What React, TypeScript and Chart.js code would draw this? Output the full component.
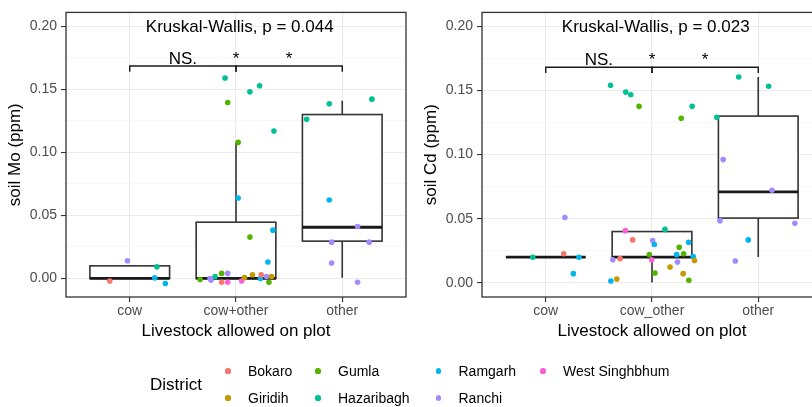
import React, { useEffect, useRef } from 'react';
import { Chart, registerables } from 'chart.js';

Chart.register(...registerables);

const FONT = '"Liberation Sans", Arial, Helvetica, sans-serif';

const DISTRICTS = ['Bokaro', 'Giridih', 'Gumla', 'Hazaribagh', 'Ramgarh', 'Ranchi', 'West Singhbhum'];
const DISTRICT_COLORS = ['#F8766D', '#C49A00', '#53B400', '#00C094', '#00B6EB', '#A58AFF', '#FB61D7'];

const MO_CATEGORIES = ['cow', 'cow+other', 'other'];
const CD_CATEGORIES = ['cow', 'cow_other', 'other'];

const Y_MAJOR_TICKS = [0, 0.05, 0.1, 0.15, 0.2];
const Y_MINOR_TICKS = [0.025, 0.075, 0.125, 0.175];

// box statistics per category: [lower whisker, Q1, median, Q3, upper whisker]
const MO_BOXES = [
  [0, 0, 0, 0.01, 0.01],
  [0, 0, 0, 0.0446, 0.1076],
  [0.0005, 0.0296, 0.0406, 0.13, 0.141],
];
const CD_BOXES = [
  [0.02, 0.02, 0.02, 0.02, 0.02],
  [0.0003, 0.02, 0.02, 0.04, 0.04],
  [0.0201, 0.0505, 0.0709, 0.13, 0.1605],
];

// jittered observations: [district, jittered category position, value]
const MO_POINTS: [string, number, number][] = [
  ['Bokaro', 0.812, -0.002],
  ['Ranchi', 0.978, 0.014],
  ['Hazaribagh', 1.256, 0.0092],
  ['Ramgarh', 1.235, 0.0005],
  ['Ramgarh', 1.335, -0.004],
  ['Hazaribagh', 1.897, 0.159],
  ['Hazaribagh', 2.131, 0.148],
  ['Hazaribagh', 2.222, 0.1528],
  ['Gumla', 1.922, 0.1396],
  ['Hazaribagh', 2.357, 0.117],
  ['Gumla', 2.02, 0.1079],
  ['Ramgarh', 2.02, 0.0638],
  ['Gumla', 2.131, 0.0328],
  ['Ramgarh', 2.347, 0.0383],
  ['Ramgarh', 2.3, 0.0131],
  ['Gumla', 1.662, -0.0008],
  ['Ranchi', 1.756, 0.0],
  ['Ranchi', 1.765, -0.0013],
  ['Hazaribagh', 1.803, 0.0016],
  ['Gumla', 1.865, 0.004],
  ['Bokaro', 1.865, -0.003],
  ['Ranchi', 1.922, 0.004],
  ['West Singhbhum', 1.922, -0.003],
  ['West Singhbhum', 2.053, -0.002],
  ['Giridih', 2.08, 0.0008],
  ['Giridih', 2.155, 0.0029],
  ['Bokaro', 2.237, 0.0029],
  ['Ramgarh', 2.23, 0.0],
  ['Ranchi', 2.288, 0.0016],
  ['Giridih', 2.335, 0.0016],
  ['Gumla', 2.31, -0.003],
  ['Hazaribagh', 2.665, 0.1262],
  ['Hazaribagh', 2.878, 0.1386],
  ['Hazaribagh', 3.279, 0.1422],
  ['Ramgarh', 2.878, 0.0622],
  ['Ranchi', 3.144, 0.0412],
  ['Ranchi', 2.9, 0.0288],
  ['Ranchi', 3.254, 0.0288],
  ['Ranchi', 2.9, 0.0123],
  ['Ranchi', 3.144, -0.003],
];

const CD_POINTS: [string, number, number][] = [
  ['Hazaribagh', 0.878, 0.02],
  ['Ranchi', 1.18, 0.051],
  ['Bokaro', 1.169, 0.0227],
  ['Ramgarh', 1.313, 0.02],
  ['Ramgarh', 1.26, 0.0072],
  ['West Singhbhum', 1.749, 0.0407],
  ['Bokaro', 1.818, 0.0335],
  ['Hazaribagh', 2.122, 0.0417],
  ['Ranchi', 2.006, 0.033],
  ['Ramgarh', 2.022, 0.0299],
  ['Ramgarh', 2.345, 0.0317],
  ['Gumla', 2.256, 0.0278],
  ['Ranchi', 1.631, 0.018],
  ['Bokaro', 1.7, 0.0189],
  ['Gumla', 1.975, 0.022],
  ['West Singhbhum', 1.997, 0.018],
  ['Ramgarh', 2.232, 0.022],
  ['Gumla', 2.298, 0.0227],
  ['Ramgarh', 2.388, 0.0206],
  ['Giridih', 2.4, 0.0175],
  ['Ranchi', 2.24, 0.0162],
  ['Gumla', 2.028, 0.0077],
  ['Giridih', 2.17, 0.0124],
  ['Giridih', 2.293, 0.0072],
  ['Gumla', 2.347, 0.002],
  ['Ramgarh', 1.613, 0.0015],
  ['Giridih', 1.669, 0.003],
  ['Hazaribagh', 1.61, 0.154],
  ['Hazaribagh', 1.753, 0.1487],
  ['Hazaribagh', 1.8, 0.1466],
  ['Gumla', 1.878, 0.1376],
  ['Gumla', 2.275, 0.1283],
  ['Hazaribagh', 2.378, 0.1376],
  ['Hazaribagh', 2.816, 0.1605],
  ['Hazaribagh', 3.098, 0.1533],
  ['Hazaribagh', 2.61, 0.129],
  ['Ranchi', 2.67, 0.0961],
  ['Ranchi', 3.129, 0.0722],
  ['Ranchi', 2.64, 0.0485],
  ['Ranchi', 3.345, 0.0464],
  ['Ramgarh', 2.906, 0.0335],
  ['Ranchi', 2.784, 0.017],
];

const MO_TEST_LABEL = 'Kruskal-Wallis, p = 0.044';
const CD_TEST_LABEL = 'Kruskal-Wallis, p = 0.023';
const BRACKETS = [[1, 2], [2, 3]];
const SIG_LABELS: [number, string][] = [[1.5, 'NS.'], [2, '*'], [2.5, '*']];
const MO_BRACKET_Y = 0.1685;
const CD_BRACKET_Y = 0.168;
const BRACKET_TIP = 0.0045;
const LABEL_POS_X = 2.035;
const LABEL_POS_Y = 0.199;

const MO_Y_RANGE = [-0.0147, 0.211];
const CD_Y_RANGE = [-0.011, 0.2108];
const X_RANGE = [0.4, 3.6];

const LEGEND_COLUMNS = [['Bokaro', 'Giridih'], ['Gumla', 'Hazaribagh'], ['Ramgarh', 'Ranchi'], ['West Singhbhum']];

const isMajor = (v: number) => Y_MAJOR_TICKS.some((t) => Math.abs(t - v) < 1e-9);

type PanelProps = {
  left: number;
  yTitle: string;
  categories: string[];
  boxes: number[][];
  points: [string, number, number][];
  testLabel: string;
  bracketY: number;
  yRange: number[];
};

function Panel({ left, yTitle, categories, boxes, points, testLabel, bracketY, yRange }: PanelProps) {
  const ref = useRef<HTMLCanvasElement>(null);

  useEffect(() => {
    if (!ref.current) return;
    const datasets = DISTRICTS.map((d, i) => ({
      label: d,
      data: points.filter((p) => p[0] === d).map((p) => ({ x: p[1], y: p[2] })),
      backgroundColor: DISTRICT_COLORS[i],
      borderWidth: 0,
      pointRadius: 2.8,
      pointHoverRadius: 2.8,
    }));

    const extras = {
      id: 'extras',
      beforeDatasetsDraw(chart: any) {
        const { ctx, scales } = chart;
        const x = scales.x;
        const y = scales.y;
        ctx.save();
        ctx.strokeStyle = '#333333';
        boxes.forEach((b, i) => {
          const c = i + 1;
          const xc = x.getPixelForValue(c);
          const xl = x.getPixelForValue(c - 0.375);
          const xr = x.getPixelForValue(c + 0.375);
          const [lo, q1, med, q3, hi] = b.map((v) => y.getPixelForValue(v));
          ctx.lineWidth = 1.6;
          ctx.beginPath();
          ctx.moveTo(xc, hi);
          ctx.lineTo(xc, q3);
          ctx.moveTo(xc, q1);
          ctx.lineTo(xc, lo);
          ctx.stroke();
          ctx.fillStyle = '#ffffff';
          ctx.fillRect(xl, q3, xr - xl, q1 - q3);
          ctx.strokeRect(xl, q3, xr - xl, q1 - q3);
          ctx.lineWidth = 2.8;
          ctx.strokeStyle = '#1a1a1a';
          ctx.beginPath();
          ctx.moveTo(xl, med);
          ctx.lineTo(xr, med);
          ctx.stroke();
          ctx.strokeStyle = '#333333';
        });
        ctx.restore();
      },
      afterDatasetsDraw(chart: any) {
        const { ctx, scales, chartArea } = chart;
        const x = scales.x;
        const y = scales.y;
        ctx.save();
        // brackets
        ctx.strokeStyle = '#1a1a1a';
        ctx.lineWidth = 1.4;
        const by = y.getPixelForValue(bracketY);
        const ty = y.getPixelForValue(bracketY - BRACKET_TIP);
        BRACKETS.forEach(([a, b]) => {
          const xa = x.getPixelForValue(a);
          const xb = x.getPixelForValue(b);
          ctx.beginPath();
          ctx.moveTo(xa, ty);
          ctx.lineTo(xa, by);
          ctx.lineTo(xb, by);
          ctx.lineTo(xb, ty);
          ctx.stroke();
        });
        ctx.fillStyle = '#000000';
        ctx.font = `17px ${FONT}`;
        ctx.textAlign = 'center';
        ctx.textBaseline = 'alphabetic';
        SIG_LABELS.forEach(([lx, t]) => {
          ctx.fillText(t, x.getPixelForValue(lx), by - 2);
        });
        ctx.textBaseline = 'middle';
        ctx.fillText(testLabel, x.getPixelForValue(LABEL_POS_X), y.getPixelForValue(LABEL_POS_Y));
        // panel border
        ctx.strokeStyle = '#333333';
        ctx.lineWidth = 1.3;
        ctx.strokeRect(chartArea.left, chartArea.top, chartArea.right - chartArea.left, chartArea.bottom - chartArea.top);
        ctx.restore();
      },
    };

    const chart = new Chart(ref.current, {
      type: 'scatter',
      data: { datasets },
      plugins: [extras],
      options: {
        animation: false,
        responsive: false,
        events: [],
        layout: { padding: { top: 10, right: 4, left: 0, bottom: 0 } },
        plugins: { legend: { display: false }, tooltip: { enabled: false } },
        scales: {
          x: {
            type: 'linear',
            min: X_RANGE[0],
            max: X_RANGE[1],
            afterBuildTicks: (s: any) => {
              s.ticks = categories.map((_, i) => ({ value: i + 1 }));
            },
            afterFit: (s: any) => {
              s.height = 45;
            },
            ticks: {
              callback: (v: any) => categories[Math.round(Number(v)) - 1] ?? '',
              color: '#4D4D4D',
              font: { size: 14, family: FONT },
              padding: 1,
              maxRotation: 0,
              autoSkip: false,
            },
            grid: { color: '#EBEBEB', lineWidth: 1.1, tickColor: '#333333', tickLength: 5 },
            border: { display: false },
            title: {
              display: true,
              text: 'Livestock allowed on plot',
              color: '#000000',
              font: { size: 17, family: FONT },
              padding: { top: 0, bottom: 0 },
            },
          },
          y: {
            type: 'linear',
            min: yRange[0],
            max: yRange[1],
            afterBuildTicks: (s: any) => {
              s.ticks = [...Y_MAJOR_TICKS, ...Y_MINOR_TICKS].sort((a, b) => a - b).map((v) => ({ value: v }));
            },
            afterFit: (s: any) => {
              s.width = 66;
            },
            ticks: {
              callback: (v: any) => (isMajor(Number(v)) ? Number(v).toFixed(2) : ''),
              color: '#4D4D4D',
              font: { size: 14, family: FONT },
              padding: 4,
              autoSkip: false,
            },
            grid: {
              color: (c: any) => (c.tick && isMajor(c.tick.value) ? '#EBEBEB' : '#F3F3F3'),
              lineWidth: (c: any) => (c.tick && isMajor(c.tick.value) ? 1.1 : 0.7),
              tickColor: (c: any) => (c.tick && isMajor(c.tick.value) ? '#333333' : 'rgba(0,0,0,0)'),
              tickLength: 5,
            },
            border: { display: false },
            title: {
              display: true,
              text: yTitle,
              color: '#000000',
              font: { size: 17, family: FONT },
              padding: { top: 5, bottom: 0 },
            },
          },
        },
      } as any,
    });
    return () => chart.destroy();
  }, []);

  return (
    <canvas
      ref={ref}
      width={410}
      height={342}
      style={{ position: 'absolute', left, top: 0, width: 410, height: 342, display: 'block' }}
    />
  );
}

function Legend() {
  const colX = [228, 318, 438.5, 543];
  const rowY = [371, 398];
  return (
    <div style={{ position: 'absolute', left: 0, top: 0, width: 812, height: 407, fontFamily: FONT }}>
      <div style={{ position: 'absolute', left: 150, top: 385 - 12, fontSize: 17, lineHeight: '24px', color: '#000' }}>
        District
      </div>
      {LEGEND_COLUMNS.map((col, ci) =>
        col.map((name, ri) => {
          const color = DISTRICT_COLORS[DISTRICTS.indexOf(name)];
          return (
            <React.Fragment key={name}>
              <div
                style={{
                  position: 'absolute',
                  left: colX[ci] - 2.6,
                  top: rowY[ri] - 2.6,
                  width: 5.2,
                  height: 5.2,
                  borderRadius: '50%',
                  background: color,
                }}
              />
              <div
                style={{
                  position: 'absolute',
                  left: colX[ci] + 20,
                  top: rowY[ri] - 10,
                  fontSize: 14,
                  lineHeight: '20px',
                  color: '#000',
                  whiteSpace: 'nowrap',
                }}
              >
                {name}
              </div>
            </React.Fragment>
          );
        })
      )}
    </div>
  );
}

export default function App() {
  return (
    <div
      style={{
        position: 'fixed',
        left: 0,
        top: 0,
        width: 812,
        height: 407,
        overflow: 'hidden',
        background: '#ffffff',
      }}
    >
      <Panel
        left={0}
        yTitle="soil Mo (ppm)"
        categories={MO_CATEGORIES}
        boxes={MO_BOXES}
        points={MO_POINTS}
        testLabel={MO_TEST_LABEL}
        bracketY={MO_BRACKET_Y}
        yRange={MO_Y_RANGE}
      />
      <Panel
        left={416}
        yTitle="soil Cd (ppm)"
        categories={CD_CATEGORIES}
        boxes={CD_BOXES}
        points={CD_POINTS}
        testLabel={CD_TEST_LABEL}
        bracketY={CD_BRACKET_Y}
        yRange={CD_Y_RANGE}
      />
      <Legend />
    </div>
  );
}
